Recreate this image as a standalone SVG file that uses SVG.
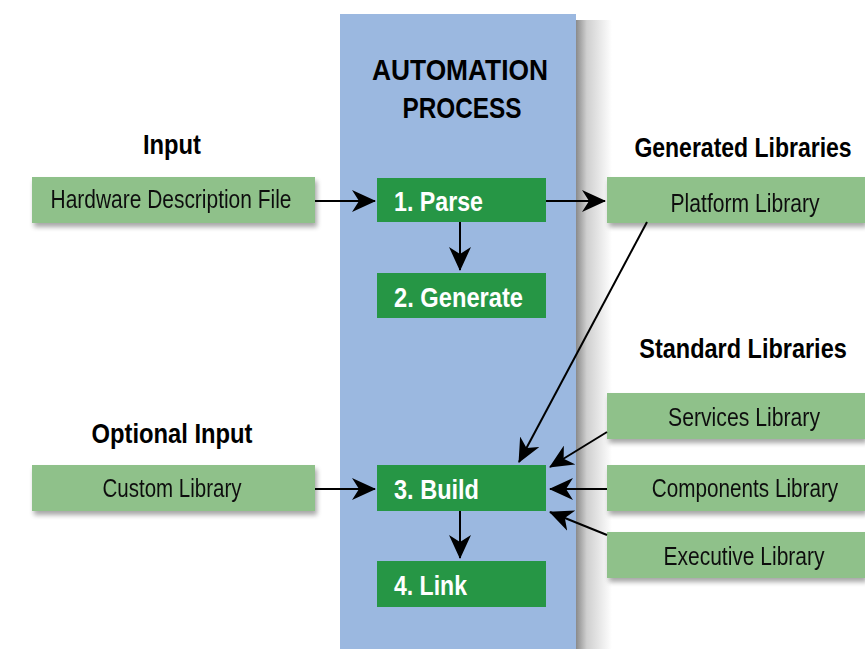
<svg xmlns="http://www.w3.org/2000/svg" width="865" height="649" viewBox="0 0 865 649">
<defs>
<style>
.t{font-family:"Liberation Sans",Arial,sans-serif}
.h{font-size:28px;font-weight:bold;fill:#000;text-anchor:middle}
.title{font-size:30px;font-weight:bold;fill:#000;text-anchor:middle}
.lb{font-size:25px;fill:#111;text-anchor:middle}
.sb{font-size:28px;font-weight:bold;fill:#fff}
.lg{fill:#8fc18a}
.dg{fill:#269645}
.c{stroke:#000;stroke-width:2;fill:none}
</style>
<marker id="ah" viewBox="0 0 24 22" refX="23" refY="11" markerWidth="24" markerHeight="22" markerUnits="userSpaceOnUse" orient="auto">
<path d="M0,0 L24,11 L0,22 L7,11 Z" fill="#000"/>
</marker>
<linearGradient id="sh" x1="0" x2="1" y1="0" y2="0">
<stop offset="0" stop-color="#8a8a8a"/>
<stop offset="0.3" stop-color="#cfcfcf"/>
<stop offset="1" stop-color="#ffffff"/>
</linearGradient>
<filter id="ds" x="-10%" y="-20%" width="130%" height="160%">
<feGaussianBlur in="SourceAlpha" stdDeviation="2.5"/>
<feOffset dx="2" dy="4"/>
<feComponentTransfer><feFuncA type="linear" slope="0.35"/></feComponentTransfer>
<feMerge><feMergeNode/><feMergeNode in="SourceGraphic"/></feMerge>
</filter>
</defs>
<rect width="865" height="649" fill="#fff"/>
<g id="panel">
<rect x="576" y="20" width="36" height="629" fill="url(#sh)"/>
<rect x="340" y="14" width="236" height="635" fill="#9bb8e0"/>
<text class="t title" x="460" y="80" textLength="176" lengthAdjust="spacingAndGlyphs">AUTOMATION</text>
<text class="t title" x="462" y="118" textLength="119" lengthAdjust="spacingAndGlyphs">PROCESS</text>
</g>
<g id="headings">
<text class="t h" x="172" y="154" textLength="58" lengthAdjust="spacingAndGlyphs">Input</text>
<text class="t h" x="172" y="443" textLength="161" lengthAdjust="spacingAndGlyphs">Optional Input</text>
<text class="t h" x="0" y="0" style="font-size:23px" transform="translate(743,157) scale(1,1.21)">Generated Libraries</text>
<text class="t h" x="0" y="0" style="font-size:23.5px" transform="translate(743,358) scale(1,1.19)">Standard Libraries</text>
</g>
<g id="hdf" filter="url(#ds)"><rect class="lg" x="32" y="177" width="283" height="46"/><text class="t lb" x="171" y="208" textLength="241" lengthAdjust="spacingAndGlyphs">Hardware Description File</text></g>
<g id="custom" filter="url(#ds)"><rect class="lg" x="32" y="465" width="283" height="46"/><text class="t lb" x="172" y="497" textLength="139" lengthAdjust="spacingAndGlyphs">Custom Library</text></g>
<g id="platform" filter="url(#ds)"><rect class="lg" x="607" y="177" width="258" height="46"/><text class="t lb" x="745" y="212" textLength="149" lengthAdjust="spacingAndGlyphs">Platform Library</text></g>
<g id="services" filter="url(#ds)"><rect class="lg" x="607" y="393" width="258" height="46"/><text class="t lb" x="744" y="426" textLength="152" lengthAdjust="spacingAndGlyphs">Services Library</text></g>
<g id="components" filter="url(#ds)"><rect class="lg" x="607" y="465" width="258" height="46"/><text class="t lb" x="0" y="0" style="font-size:20.7px" transform="translate(745,497) scale(1,1.21)">Components Library</text></g>
<g id="executive" filter="url(#ds)"><rect class="lg" x="607" y="532" width="258" height="46"/><text class="t lb" x="744" y="565" textLength="161" lengthAdjust="spacingAndGlyphs">Executive Library</text></g>
<g id="parse"><rect class="dg" x="377" y="178" width="169" height="44"/><text class="t sb" x="394" y="211" textLength="89" lengthAdjust="spacingAndGlyphs">1. Parse</text></g>
<g id="generate"><rect class="dg" x="377" y="273" width="169" height="45"/><text class="t sb" x="394" y="307" textLength="129" lengthAdjust="spacingAndGlyphs">2. Generate</text></g>
<g id="build"><rect class="dg" x="377" y="465" width="169" height="46"/><text class="t sb" x="394" y="499" textLength="85" lengthAdjust="spacingAndGlyphs">3. Build</text></g>
<g id="link"><rect class="dg" x="377" y="561" width="169" height="46"/><text class="t sb" x="394" y="595" textLength="73" lengthAdjust="spacingAndGlyphs">4. Link</text></g>
<g id="connectors">
<line class="c" x1="315" y1="201" x2="375" y2="201" marker-end="url(#ah)"/>
<line class="c" x1="546" y1="201" x2="605" y2="201" marker-end="url(#ah)"/>
<line class="c" x1="460" y1="222" x2="460" y2="270" marker-end="url(#ah)"/>
<line class="c" x1="647" y1="222" x2="519" y2="462" marker-end="url(#ah)"/>
<line class="c" x1="315" y1="489" x2="375" y2="489" marker-end="url(#ah)"/>
<line class="c" x1="607" y1="432" x2="550" y2="467" marker-end="url(#ah)"/>
<line class="c" x1="607" y1="489" x2="550" y2="489" marker-end="url(#ah)"/>
<line class="c" x1="607" y1="535" x2="550" y2="512" marker-end="url(#ah)"/>
<line class="c" x1="460" y1="511" x2="460" y2="558" marker-end="url(#ah)"/>
</g>
</svg>
